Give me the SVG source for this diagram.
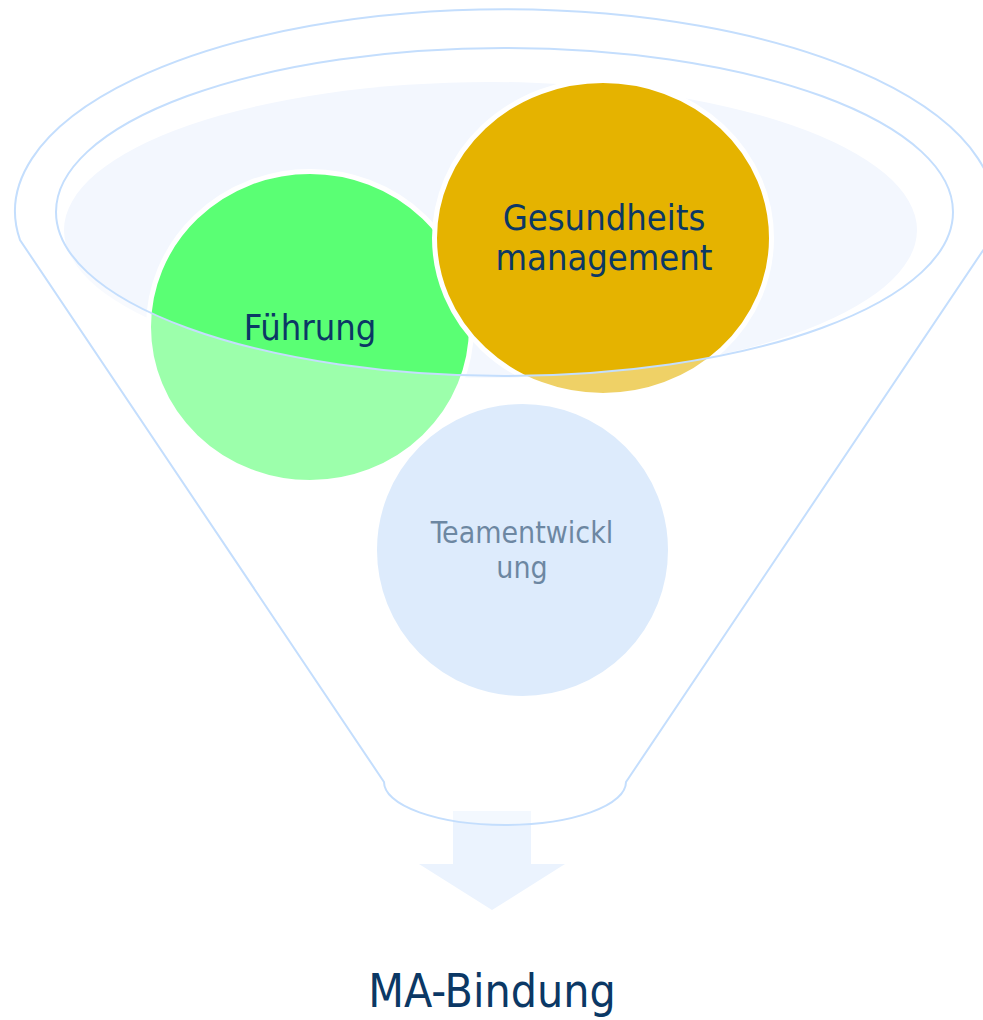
<svg xmlns="http://www.w3.org/2000/svg" width="983" height="1020" viewBox="0 0 983 1020">
  <style>
    .label { font-family: "DejaVu Sans Condensed", "DejaVu Sans", sans-serif; text-anchor: middle; fill: #0B3865; }
    .big { font-size: 36px; }
    .small { font-size: 30px; }
    .ring { fill: none; stroke: #C4DEFD; stroke-width: 2; }
    .bubble { stroke: #FFFFFF; stroke-width: 5; }
  </style>

  <!-- output arrow below the funnel spout -->
  <g id="connectors">
    <polygon points="453,811 531,811 531,864 565,864 492,910 419,864 453,864" fill="#EBF3FE"/>
  </g>

  <!-- contents of the funnel mouth -->
  <ellipse id="funnel-surface" cx="490.5" cy="230" rx="426.5" ry="148" fill="#F3F7FE"/>

  <g id="node-fuehrung">
    <ellipse class="bubble" cx="310" cy="327" rx="161.5" ry="155.5" fill="#5AFF74"/>
    <text class="label big" x="310" y="340">Führung</text>
  </g>

  <g id="node-gesundheitsmanagement">
    <ellipse class="bubble" cx="603" cy="238" rx="168.5" ry="157.5" fill="#E5B300"/>
    <text class="label big" x="604" y="230">Gesundheits</text>
    <text class="label big" x="604" y="270">management</text>
  </g>

  <g id="node-teamentwicklung">
    <ellipse class="bubble" cx="522.5" cy="550" rx="148" ry="148.5" fill="#C6DEFA"/>
    <text class="label small" x="522" y="543">Teamentwickl</text>
    <text class="label small" x="522" y="578">ung</text>
  </g>

  <!-- translucent funnel body in front of the bubbles (mouth left open) -->
  <g id="funnel">
    <path fill="#FFFFFF" fill-opacity="0.4" fill-rule="evenodd"
          d="M20,240 A490,202 0 1,1 990,240 L626,782 A121,43 0 0,1 384,782 Z
             M56,212 A448.5,164 0 1,0 953,212 A448.5,164 0 1,0 56,212 Z"/>
    <path class="ring" d="M20,240 A490,202 0 1,1 990,240 L626,782 A121,43 0 0,1 384,782 Z"/>
    <ellipse class="ring" cx="504.5" cy="212" rx="448.5" ry="164"/>
  </g>

  <g id="node-ma-bindung">
    <text class="label" x="492" y="1007" font-size="46">MA-Bindung</text>
  </g>
</svg>
